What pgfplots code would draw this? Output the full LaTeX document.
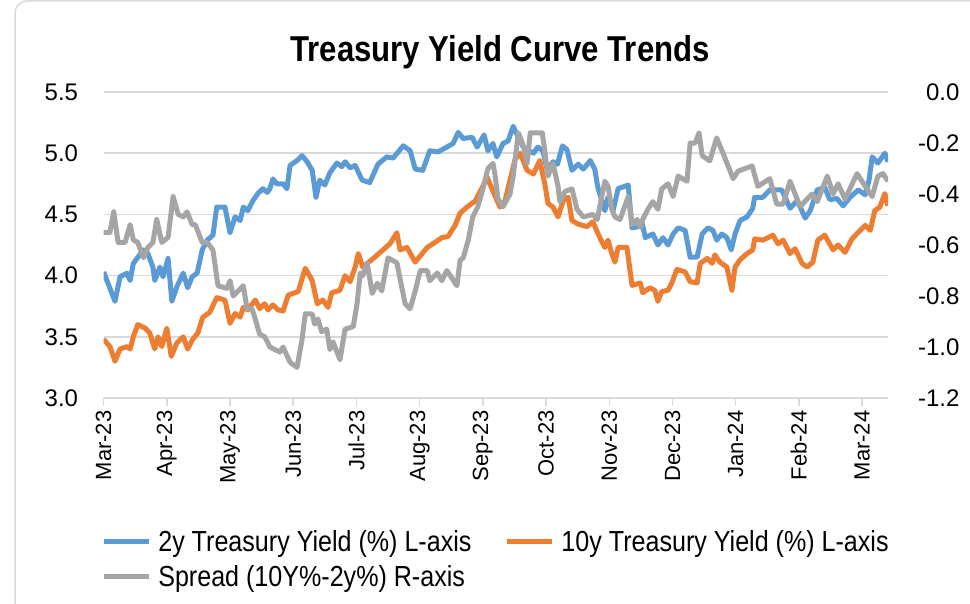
\documentclass[border=0pt]{standalone}
\usepackage{pgfplots}
\pgfplotsset{compat=1.18}
\usepackage{fontspec}
\setmainfont{Liberation Sans}
\newfontfamily\condfont[FakeStretch=0.865]{Liberation Sans}
\definecolor{c2y}{HTML}{5B9BD5}
\definecolor{c10y}{HTML}{ED7D31}
\definecolor{cspr}{HTML}{A5A5A5}
\definecolor{cgrid}{HTML}{D9D9D9}
\pgfplotsset{common/.style={
  at={(103.6pt,205pt)}, anchor=south west, scale only axis,
  width=784.4pt, height=306pt, xmin=0, xmax=12.41,
  no markers, clip=true}}
\begin{document}
\begin{tikzpicture}
\useasboundingbox (0pt,0pt) rectangle (970pt,603pt);
\fill[white] (0pt,0pt) rectangle (970pt,603pt);
\draw[cgrid, line width=1.5pt, rounded corners=12pt] (15pt,-30pt) rectangle (1000pt,602pt);
\node[font=\condfont\bfseries\fontsize{36}{40}\selectfont] at (500pt,551pt) {Treasury Yield Curve Trends};
\begin{axis}[common,
  ymin=3, ymax=5.5, ytick={3,3.5,4,4.5,5,5.5},
  yticklabels={3.0,3.5,4.0,4.5,5.0,5.5},
  ymajorgrids, grid style={cgrid, line width=1.5pt},
  axis lines*=left, y axis line style={draw=none},
  x axis line style={cgrid, line width=1.5pt},
  ytick style={draw=none}, xtick style={cgrid, line width=1.5pt},
  major tick length=8pt, tick align=outside,
  xtick={0,1,2,3,4,5,6,7,8,9,10,11,12},
  xticklabels={Mar-23,Apr-23,May-23,Jun-23,Jul-23,Aug-23,Sep-23,Oct-23,Nov-23,Dec-23,Jan-24,Feb-24,Mar-24},
  xticklabel style={rotate=90, anchor=east, xshift=-1pt, font=\fontsize{22}{26}\selectfont},
  yticklabel style={anchor=east, xshift=-14pt, font=\fontsize{24}{28}\selectfont},
]
\addplot[c2y, line width=5pt, line join=round] table {
0.00 4.03
0.18 3.79
0.26 3.99
0.37 4.02
0.42 3.96
0.47 4.10
0.63 4.21
0.70 4.18
0.78 4.07
0.81 3.96
0.89 4.07
0.94 3.99
1.02 4.14
1.08 3.79
1.16 3.91
1.26 4.02
1.33 3.90
1.40 3.99
1.48 4.02
1.56 4.21
1.64 4.29
1.73 4.33
1.79 4.56
1.92 4.56
2.00 4.35
2.08 4.48
2.16 4.45
2.21 4.56
2.28 4.53
2.36 4.61
2.44 4.67
2.52 4.71
2.59 4.68
2.63 4.71
2.68 4.79
2.74 4.75
2.84 4.75
2.90 4.71
2.95 4.90
3.06 4.94
3.14 4.98
3.22 4.93
3.30 4.86
3.36 4.64
3.42 4.78
3.50 4.74
3.58 4.84
3.69 4.92
3.77 4.89
3.82 4.93
3.90 4.88
3.98 4.90
4.09 4.78
4.21 4.76
4.34 4.91
4.48 4.97
4.58 4.96
4.74 5.06
4.85 5.02
4.93 4.87
5.05 4.86
5.16 5.02
5.29 5.01
5.43 5.05
5.53 5.08
5.61 5.17
5.69 5.12
5.83 5.13
5.91 5.05
6.02 5.15
6.08 5.02
6.16 5.08
6.22 4.97
6.32 5.08
6.40 5.10
6.48 5.22
6.56 5.13
6.64 5.05
6.80 5.00
6.87 5.05
6.95 5.02
7.02 4.86
7.11 4.93
7.18 4.91
7.26 5.06
7.33 5.03
7.41 4.86
7.51 4.91
7.59 4.87
7.70 4.94
7.77 4.87
7.82 4.72
7.93 4.53
7.98 4.64
8.06 4.53
8.14 4.71
8.30 4.74
8.36 4.39
8.46 4.40
8.52 4.43
8.57 4.31
8.69 4.34
8.77 4.25
8.85 4.31
8.93 4.25
9.01 4.34
9.09 4.39
9.20 4.37
9.28 4.15
9.39 4.15
9.47 4.34
9.56 4.39
9.64 4.37
9.70 4.29
9.78 4.34
9.86 4.31
9.93 4.21
9.99 4.34
10.07 4.45
10.18 4.48
10.27 4.55
10.30 4.64
10.43 4.64
10.54 4.70
10.73 4.70
10.86 4.55
10.97 4.61
11.02 4.56
11.10 4.47
11.18 4.53
11.29 4.70
11.41 4.72
11.49 4.62
11.60 4.63
11.70 4.57
11.81 4.64
11.94 4.70
12.05 4.66
12.11 4.78
12.16 4.97
12.25 4.92
12.36 5.00
12.41 4.93
};
\addplot[c10y, line width=5pt, line join=round] table {
0.00 3.48
0.10 3.42
0.18 3.30
0.26 3.40
0.37 3.42
0.42 3.40
0.47 3.50
0.54 3.60
0.66 3.57
0.73 3.53
0.81 3.40
0.86 3.50
0.92 3.42
1.00 3.57
1.07 3.34
1.16 3.45
1.26 3.50
1.33 3.40
1.41 3.48
1.49 3.53
1.57 3.66
1.68 3.70
1.79 3.82
1.92 3.80
2.00 3.61
2.08 3.69
2.16 3.66
2.21 3.74
2.28 3.72
2.40 3.80
2.47 3.73
2.55 3.77
2.60 3.72
2.68 3.76
2.76 3.72
2.84 3.71
2.92 3.84
3.08 3.87
3.19 4.06
3.30 3.96
3.38 3.77
3.47 3.80
3.55 3.74
3.61 3.86
3.74 3.88
3.82 4.00
3.90 3.95
3.98 4.07
4.03 4.18
4.10 4.07
4.29 4.15
4.42 4.21
4.53 4.26
4.64 4.35
4.69 4.21
4.80 4.23
4.93 4.11
5.04 4.18
5.12 4.23
5.24 4.27
5.35 4.31
5.45 4.32
5.56 4.41
5.64 4.51
5.75 4.56
5.88 4.61
5.96 4.69
6.07 4.80
6.16 4.69
6.27 4.56
6.35 4.61
6.43 4.78
6.51 4.95
6.59 5.00
6.70 4.86
6.80 4.83
6.90 4.94
6.98 4.75
7.03 4.59
7.11 4.56
7.19 4.48
7.27 4.61
7.35 4.64
7.41 4.45
7.51 4.42
7.65 4.40
7.74 4.44
7.85 4.31
7.93 4.23
7.98 4.29
8.04 4.18
8.09 4.11
8.14 4.23
8.28 4.23
8.36 3.92
8.49 3.94
8.53 3.86
8.64 3.90
8.72 3.88
8.77 3.79
8.83 3.87
8.93 3.88
8.99 3.94
9.07 4.05
9.20 4.03
9.28 3.95
9.39 3.94
9.44 4.10
9.55 4.14
9.63 4.10
9.67 4.17
9.75 4.11
9.86 4.07
9.94 3.88
9.99 4.07
10.07 4.13
10.18 4.18
10.27 4.21
10.30 4.30
10.43 4.29
10.59 4.33
10.67 4.26
10.75 4.29
10.86 4.18
10.94 4.22
11.05 4.10
11.13 4.07
11.22 4.11
11.30 4.29
11.41 4.33
11.54 4.21
11.62 4.25
11.73 4.19
11.84 4.30
11.97 4.37
12.05 4.41
12.13 4.37
12.20 4.53
12.28 4.56
12.36 4.67
12.41 4.57
};
\end{axis}
\begin{axis}[common,
  ymin=-1.2, ymax=0, ytick={-1.2,-1.0,-0.8,-0.6,-0.4,-0.2,0},
  yticklabels={-1.2,-1.0,-0.8,-0.6,-0.4,-0.2,0.0},
  axis y line*=right, axis x line=none,
  y axis line style={draw=none}, ytick style={draw=none},
  xtick=\empty,
  yticklabel style={anchor=east, xshift=75pt, font=\fontsize{24}{28}\selectfont},
  legend columns=2, legend cell align=left,
  legend image code/.code={\draw[#1] (0pt,0pt) -- (45pt,0pt);},
  legend style={draw=none, fill=none, at={(-0.007,-0.42)}, anchor=north west,
    font=\condfont\fontsize{29}{34}\selectfont, row sep=8pt,
    /tikz/every odd column/.append style={column sep=5pt},
    /tikz/every even column/.append style={column sep=31pt}},
]
\addlegendimage{c2y, line width=5pt}
\addlegendentry{2y Treasury Yield (\%) L-axis}
\addlegendimage{c10y, line width=5pt}
\addlegendentry{10y Treasury Yield (\%) L-axis}
\addplot[cspr, line width=5pt, line join=round] table {
0.00 -0.55
0.10 -0.55
0.16 -0.47
0.23 -0.59
0.34 -0.59
0.42 -0.52
0.47 -0.58
0.54 -0.59
0.63 -0.65
0.70 -0.61
0.78 -0.59
0.84 -0.50
0.92 -0.59
1.02 -0.57
1.10 -0.41
1.18 -0.48
1.26 -0.49
1.32 -0.47
1.40 -0.52
1.45 -0.52
1.56 -0.59
1.64 -0.59
1.73 -0.62
1.81 -0.76
1.95 -0.77
2.00 -0.74
2.05 -0.80
2.21 -0.76
2.27 -0.85
2.35 -0.85
2.47 -0.95
2.55 -0.96
2.63 -1.00
2.79 -1.02
2.84 -1.00
2.95 -1.06
3.06 -1.08
3.14 -0.97
3.19 -0.87
3.30 -0.87
3.34 -0.91
3.39 -0.89
3.45 -0.94
3.53 -0.93
3.58 -1.01
3.63 -0.98
3.74 -1.05
3.82 -0.93
3.95 -0.92
4.01 -0.83
4.06 -0.71
4.10 -0.72
4.17 -0.67
4.25 -0.79
4.33 -0.75
4.40 -0.78
4.50 -0.65
4.64 -0.67
4.77 -0.83
4.85 -0.85
4.93 -0.78
5.01 -0.70
5.12 -0.70
5.16 -0.74
5.28 -0.71
5.35 -0.74
5.43 -0.70
5.59 -0.76
5.64 -0.66
5.69 -0.65
5.77 -0.58
5.84 -0.49
5.92 -0.45
6.00 -0.38
6.08 -0.30
6.16 -0.28
6.19 -0.32
6.24 -0.42
6.32 -0.45
6.43 -0.40
6.48 -0.33
6.56 -0.16
6.64 -0.21
6.70 -0.28
6.75 -0.16
6.86 -0.16
6.94 -0.16
6.98 -0.23
7.03 -0.33
7.11 -0.28
7.19 -0.37
7.22 -0.43
7.30 -0.39
7.41 -0.38
7.49 -0.46
7.59 -0.49
7.74 -0.48
7.81 -0.50
7.89 -0.40
7.93 -0.35
7.98 -0.37
8.04 -0.46
8.09 -0.49
8.17 -0.50
8.30 -0.41
8.36 -0.52
8.44 -0.50
8.49 -0.53
8.53 -0.50
8.61 -0.46
8.69 -0.43
8.77 -0.46
8.83 -0.38
8.93 -0.36
9.01 -0.41
9.09 -0.33
9.23 -0.35
9.28 -0.20
9.36 -0.20
9.42 -0.16
9.47 -0.25
9.59 -0.27
9.70 -0.18
9.80 -0.24
9.88 -0.29
9.96 -0.34
10.04 -0.31
10.15 -0.30
10.26 -0.29
10.35 -0.37
10.54 -0.34
10.65 -0.44
10.75 -0.44
10.86 -0.35
10.94 -0.40
11.02 -0.45
11.13 -0.42
11.21 -0.40
11.29 -0.43
11.45 -0.33
11.54 -0.40
11.62 -0.36
11.73 -0.42
11.92 -0.32
12.05 -0.37
12.16 -0.41
12.25 -0.33
12.33 -0.32
12.41 -0.35
};
\addlegendentry{Spread (10Y\%-2y\%) R-axis}
\end{axis}
\end{tikzpicture}
\end{document}
